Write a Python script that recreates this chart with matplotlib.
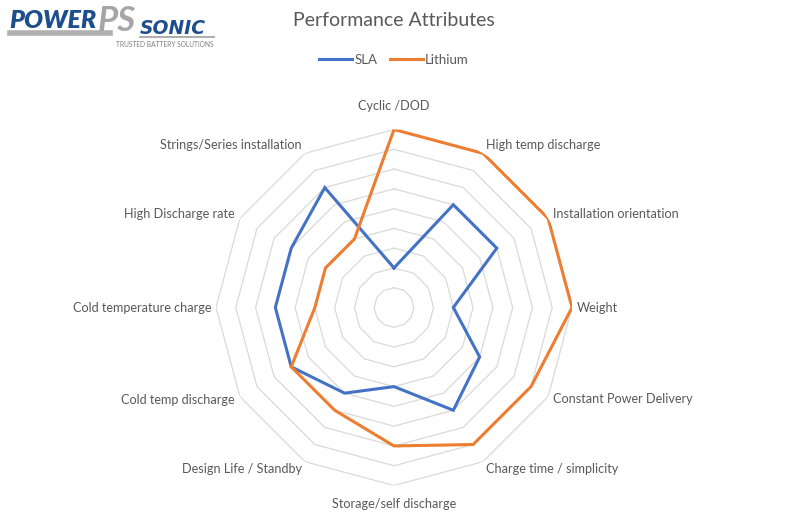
import numpy as np
import matplotlib
matplotlib.use("Agg")
import matplotlib.pyplot as plt
from matplotlib.lines import Line2D

categories = [
    "Cyclic /DOD",
    "High temp discharge",
    "Installation orientation",
    "Weight",
    "Constant Power Delivery",
    "Charge time / simplicity",
    "Storage/self discharge",
    "Design Life / Standby",
    "Cold temp discharge",
    "Cold temperature charge",
    "High Discharge rate",
    "Strings/Series installation",
]
sla = [2, 6, 6, 3, 5, 6, 4, 5, 6, 6, 6, 7]
lithium = [9, 9, 9, 9, 8, 8, 7, 6, 6, 4, 4, 4]
ring_levels = [1, 2, 3, 4, 5, 6, 7, 8, 9]

SLA_COLOR = "#4472C4"
LI_COLOR = "#ED7D31"
TEXT_COLOR = "#595959"
GRID_COLOR = "#D9D9D9"
FONT = ["Lato", "DejaVu Sans"]

W, H = 788, 515
fig = plt.figure(figsize=(W / 100, H / 100), dpi=100)
fig.patch.set_facecolor("white")

# polar axes centred where the excel radar sits
cx, cy, rad = 394, 307.5, 178
ax = fig.add_axes([(cx - rad) / W, (H - cy - rad) / H, 2 * rad / W, 2 * rad / H],
                  projection="polar")
ax.set_theta_zero_location("N")
ax.set_theta_direction(-1)
ax.set_ylim(0, max(ring_levels))
ax.grid(False)
ax.spines["polar"].set_visible(False)
ax.set_xticks([])
ax.set_yticks([])
ax.set_facecolor("none")

n = len(categories)
theta = np.arange(n) * 2 * np.pi / n
theta_closed = np.append(theta, theta[0])

# dodecagon rings
for lvl in ring_levels:
    ax.plot(theta_closed, [lvl] * (n + 1), color=GRID_COLOR, lw=0.9, zorder=1)

ax.plot(theta_closed, sla + sla[:1], color=SLA_COLOR, lw=2.2, zorder=3,
        solid_joinstyle="miter")
ax.plot(theta_closed, lithium + lithium[:1], color=LI_COLOR, lw=2.2, zorder=4,
        solid_joinstyle="miter")

# category labels, offsets in pixels from the outer ring vertex
offsets = [(0, 23), (3, 8), (5, 5), (5, 0), (5, -3), (3, -7),
           (0, -19), (-3, -7), (-5, -3), (-5, 0), (-5, 5), (-3, 8)]
for i, (lab, t) in enumerate(zip(categories, theta)):
    dx, dy = offsets[i]
    if dx > 0:
        ha = "left"
    elif dx < 0:
        ha = "right"
    else:
        ha = "center"
    ax.annotate(lab, xy=(t, max(ring_levels)), xytext=(dx, dy),
                textcoords="offset pixels", ha=ha, va="center",
                fontsize=9.1, color=TEXT_COLOR, family=FONT)

# title and legend
fig.text(0.5, 1 - 20 / H, "Performance Attributes", ha="center", va="center",
         fontsize=14, color=TEXT_COLOR, family=FONT)
handles = [Line2D([], [], color=SLA_COLOR, lw=2.2),
           Line2D([], [], color=LI_COLOR, lw=2.2)]
leg = fig.legend(handles, ["SLA", "Lithium"], loc="center",
                 bbox_to_anchor=(0.5, 1 - 60 / H), ncol=2, frameon=False,
                 handlelength=2.5, handletextpad=0.2, columnspacing=0.9,
                 prop={"family": FONT, "size": 9.5})
for t in leg.get_texts():
    t.set_color(TEXT_COLOR)

# logo
fig.add_artist(Line2D([10 / W, 110 / W], [1 - 33 / H, 1 - 33 / H],
                      color="#B0B0B0", lw=4))
fig.text(9 / W, 1 - 21 / H, "POWER", ha="left", va="center", fontsize=18,
         fontweight="heavy", style="italic", color="#1F4E8C", family=FONT)
fig.text(98 / W, 1 - 21 / H, "PS", ha="left", va="center", fontsize=25,
         fontweight="bold", style="italic", color="#A6A6A6", family=FONT)
fig.text(140 / W, 1 - 28 / H, "SONIC", ha="left", va="center", fontsize=13.5,
         fontweight="bold", style="italic", color="#1F4E8C",
         family=["DejaVu Sans"])
fig.add_artist(Line2D([140 / W, 214 / W], [1 - 37 / H, 1 - 37 / H],
                      color="#B0B0B0", lw=1.5))
fig.text(214 / W, 1 - 44.5 / H, "TRUSTED BATTERY SOLUTIONS", ha="right",
         va="center", fontsize=4.8, color="#808080", family=FONT)

fig.savefig("out.png", dpi=100, facecolor="white")
